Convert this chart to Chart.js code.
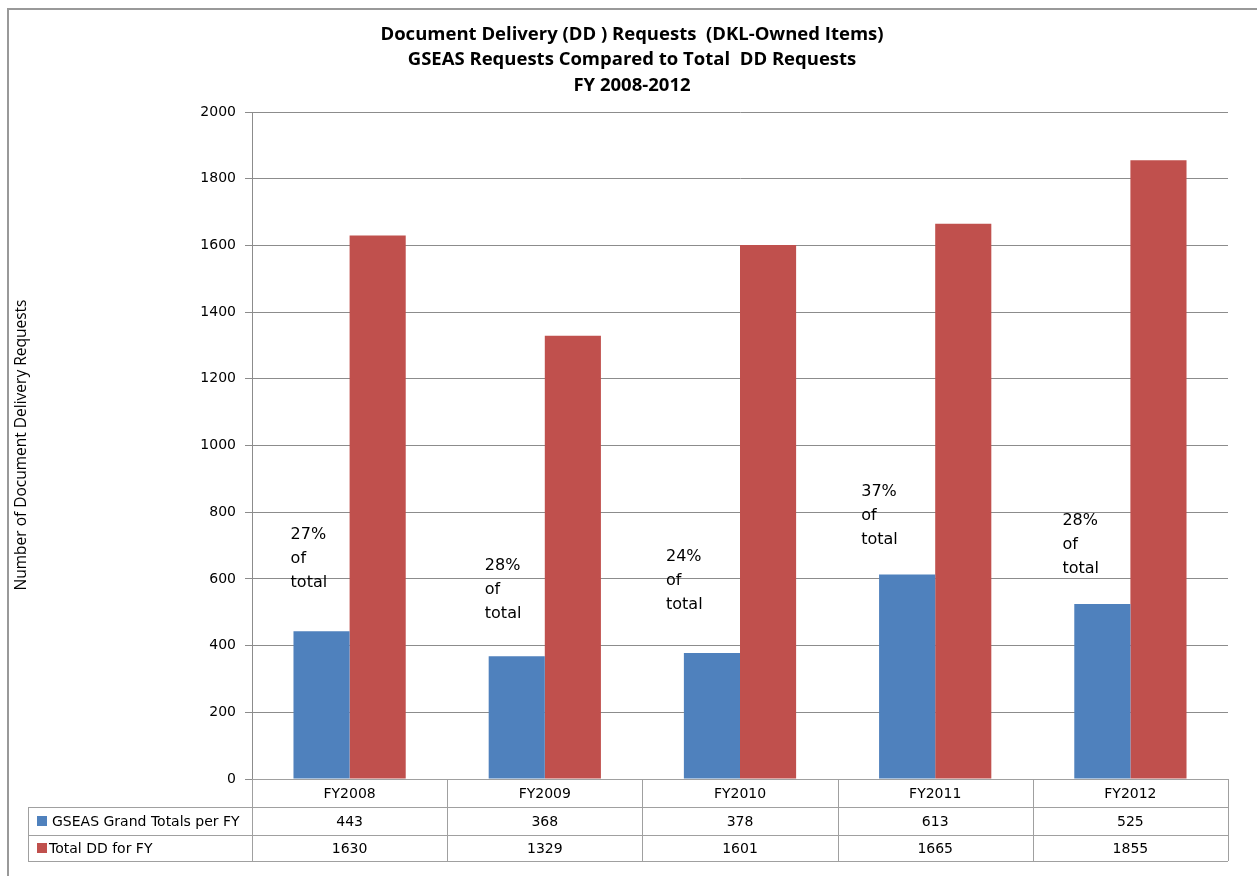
<!DOCTYPE html>
<html>
<head>
<meta charset="utf-8">
<script src="https://cdn.jsdelivr.net/npm/chart.js@4/dist/chart.umd.min.js"></script>
<style>
  html, body { margin: 0; padding: 0; background: #fff; }
  #wrap { width: 1257px; height: 876px; position: relative; }
</style>
</head>
<body>
<div id="wrap"><canvas id="c" width="1257" height="876"></canvas></div>
<script>
// ---- data ----
const categories = ['FY2008', 'FY2009', 'FY2010', 'FY2011', 'FY2012'];
const gseasTotals = [443, 368, 378, 613, 525];
const totalDD = [1630, 1329, 1601, 1665, 1855];
const seriesNames = ['GSEAS Grand Totals per FY', 'Total DD for FY'];
const shareLabels = ['27%', '28%', '24%', '37%', '28%'];
const titleLines = [
  'Document Delivery (DD ) Requests  (DKL-Owned Items)',
  'GSEAS Requests Compared to Total  DD Requests',
  'FY 2008-2012'
];
const yAxisTitle = 'Number of Document Delivery Requests';

// ---- placement of the hand-placed "% of total" notes (pixel offset from category centre, value for first line) ----
const notePlacement = [
  { dx: -59, v: 732 },
  { dx: -60, v: 639 },
  { dx: -74, v: 666 },
  { dx: -74, v: 861 },
  { dx: -68, v: 774 }
];

const BLUE = '#4f81bd';
const RED = '#c0504d';
const GRID = '#8c8c8c';
const TICK_FONT = '"DejaVu Sans", Verdana, sans-serif';

const decorPlugin = {
  id: 'decor',
  beforeDraw(chart) {
    const ctx = chart.ctx;
    ctx.save();
    ctx.fillStyle = '#fff';
    ctx.fillRect(0, 0, chart.width, chart.height);
    ctx.restore();
  },
  afterDraw(chart) {
    const ctx = chart.ctx;
    const xs = chart.scales.x;
    const ys = chart.scales.y;
    const ca = chart.chartArea;
    ctx.save();

    // outer frame
    ctx.strokeStyle = '#999';
    ctx.lineWidth = 2;
    ctx.beginPath();
    ctx.moveTo(8, chart.height + 5);
    ctx.lineTo(8, 9);
    ctx.lineTo(chart.width + 5, 9);
    ctx.stroke();

    // title
    ctx.fillStyle = '#000';
    ctx.textAlign = 'center';
    ctx.textBaseline = 'middle';
    ctx.font = 'bold 18.5px "Open Sans", "Noto Sans", Arial, sans-serif';
    const tY = [35, 60, 86];
    titleLines.forEach((t, i) => ctx.fillText(t, 632, tY[i]));

    // y axis title
    ctx.save();
    ctx.translate(22, 445);
    ctx.rotate(-Math.PI / 2);
    ctx.font = '15.5px "Open Sans", "Noto Sans", sans-serif';
    ctx.fillText(yAxisTitle, 0, 0);
    ctx.restore();

    // notes
    ctx.font = '16px "DejaVu Sans", sans-serif';
    ctx.textAlign = 'left';
    ctx.textBaseline = 'middle';
    const lh = 24;
    shareLabels.forEach((lab, i) => {
      const cx = xs.getPixelForValue(i) + notePlacement[i].dx;
      const y0 = ys.getPixelForValue(notePlacement[i].v);
      [lab, 'of', 'total'].forEach((s, k) => ctx.fillText(s, cx, y0 + k * lh));
    });

    // data table
    const n = categories.length;
    const w = (ca.right - ca.left) / n;
    const top = ca.bottom;
    const r1 = 807, r2 = 835, bot = 861;
    const tableLeft = 28;
    ctx.strokeStyle = '#a0a0a0';
    ctx.lineWidth = 1;
    ctx.beginPath();
    ctx.moveTo(ca.left, top + 0.5); ctx.lineTo(ca.right, top + 0.5);
    ctx.moveTo(tableLeft, r1 + 0.5); ctx.lineTo(ca.right, r1 + 0.5);
    ctx.moveTo(tableLeft, r2 + 0.5); ctx.lineTo(ca.right, r2 + 0.5);
    ctx.moveTo(tableLeft, bot + 0.5); ctx.lineTo(ca.right, bot + 0.5);
    for (let i = 0; i <= n; i++) {
      const x = Math.round(ca.left + i * w) + 0.5;
      ctx.moveTo(x, top); ctx.lineTo(x, bot);
    }
    ctx.moveTo(tableLeft + 0.5, r1); ctx.lineTo(tableLeft + 0.5, bot);
    ctx.stroke();

    ctx.fillStyle = '#000';
    ctx.font = '14px ' + TICK_FONT;
    ctx.textAlign = 'center';
    ctx.textBaseline = 'middle';
    for (let i = 0; i < n; i++) {
      const cx = xs.getPixelForValue(i);
      ctx.fillText(categories[i], cx, (top + r1) / 2 + 1);
      ctx.fillText(String(gseasTotals[i]), cx, (r1 + r2) / 2 + 1);
      ctx.fillText(String(totalDD[i]), cx, (r2 + bot) / 2 + 1);
    }
    ctx.textAlign = 'left';
    ctx.fillStyle = BLUE;
    ctx.fillRect(37, 816, 10, 10);
    ctx.fillStyle = RED;
    ctx.fillRect(37, 843, 10, 10);
    ctx.fillStyle = '#000';
    ctx.fillText(seriesNames[0], 52, (r1 + r2) / 2 + 1);
    ctx.fillText(seriesNames[1], 49, (r2 + bot) / 2 + 1);

    ctx.restore();
  }
};

new Chart(document.getElementById('c'), {
  type: 'bar',
  data: {
    labels: categories,
    datasets: [
      { label: seriesNames[0], data: gseasTotals, backgroundColor: BLUE, borderWidth: 0 },
      { label: seriesNames[1], data: totalDD, backgroundColor: RED, borderWidth: 0 }
    ]
  },
  options: {
    responsive: false,
    animation: false,
    devicePixelRatio: 1,
    layout: { padding: { left: 0, right: 29, top: 112, bottom: 97 } },
    plugins: {
      legend: { display: false },
      title: { display: false },
      tooltip: { enabled: false }
    },
    datasets: { bar: { categoryPercentage: 0.575, barPercentage: 1.0 } },
    scales: {
      x: { display: false },
      y: {
        min: 0, max: 2000,
        ticks: {
          stepSize: 200, color: '#000', font: { family: TICK_FONT, size: 14 }, padding: 9,
          callback: (v) => String(v)
        },
        grid: { color: GRID, tickLength: 7, drawTicks: true },
        border: { color: GRID },
        afterFit(scale) { scale.width = 252; }
      }
    }
  },
  plugins: [decorPlugin]
});
</script>
</body>
</html>
